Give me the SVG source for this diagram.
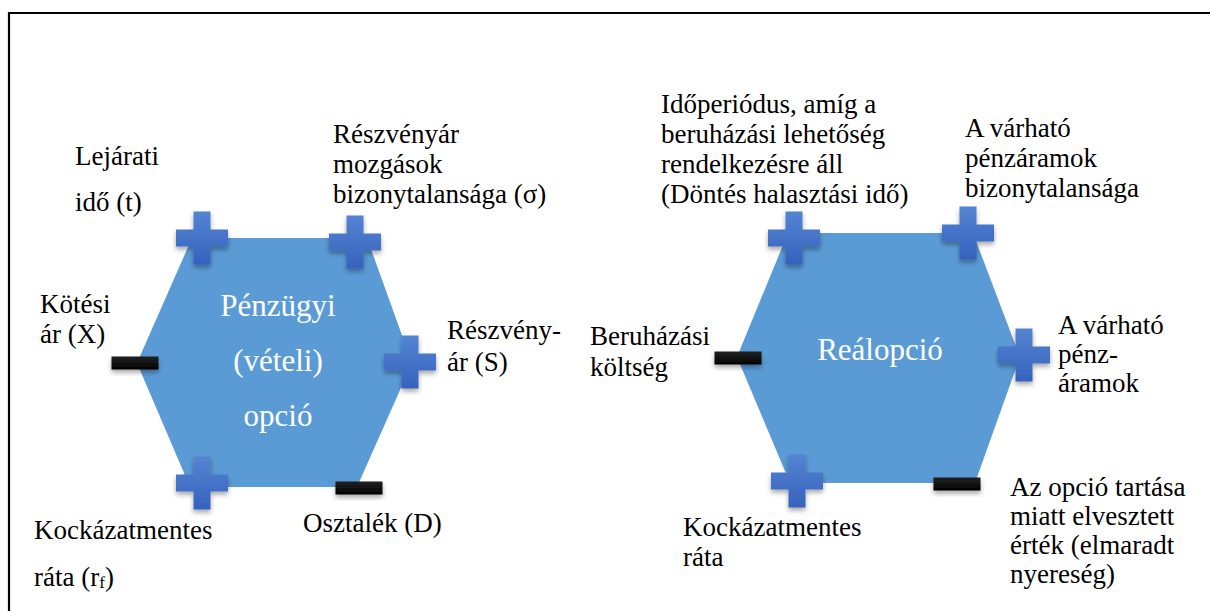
<svg xmlns="http://www.w3.org/2000/svg" width="1210" height="611" viewBox="0 0 1210 611">
  <style>
    .frame { fill: none; stroke: #000; stroke-width: 2.2; }
    .hex { fill: #5B9BD5; }
    .lbl { font-size: 27px; fill: #000; }
    .core { font-size: 31px; fill: #fff; text-anchor: middle; }
    .plus { fill: url(#plusFill); filter: url(#soft); }
    .minus { fill: url(#minusFill); filter: url(#soft); }
  </style>
  <defs>
    <linearGradient id="plusFill" x1="0" y1="0" x2="0" y2="1">
      <stop offset="0" stop-color="#5584D3"/>
      <stop offset="1" stop-color="#3562BC"/>
    </linearGradient>
    <linearGradient id="minusFill" x1="0" y1="0" x2="0" y2="1">
      <stop offset="0" stop-color="#222"/>
      <stop offset="1" stop-color="#000"/>
    </linearGradient>
    <filter id="soft" x="-40%" y="-40%" width="180%" height="190%">
      <feDropShadow dx="0" dy="3" stdDeviation="2.5" flood-color="#000" flood-opacity="0.35"/>
    </filter>
    <!-- plus / minus sign shapes centred on the origin -->
    <path id="plusShape" d="M-8.5 -26.5H8.5V-8.5H26V8.5H8.5V26.5H-8.5V8.5H-26V-8.5H-8.5Z"/>
    <rect id="minusShape" x="-23.5" y="-6.5" width="47" height="13"/>
  </defs>

  <!-- page frame (top and left rule) -->
  <path class="frame" d="M9 611V13H1210"/>

  <g font-family="Liberation Serif">
  <!-- left: financial call option -->
  <g id="financial-option">
    <polygon class="hex" points="192,238 367,238 412,363 357,487 190,487 137,363"/>
    <text class="core" x="278" y="316" font-family="Liberation Serif">Pénzügyi</text>
    <text class="core" x="278" y="371" font-family="Liberation Serif">(vételi)</text>
    <text class="core" x="278" y="426" font-family="Liberation Serif">opció</text>
  </g>

  <g id="fin-maturity">
    <use href="#plusShape" class="plus" x="202" y="238"/>
    <text class="lbl" x="75" y="165" font-family="Liberation Serif">Lejárati</text>
    <text class="lbl" x="75" y="211" font-family="Liberation Serif">idő (t)</text>
  </g>
  <g id="fin-volatility">
    <use href="#plusShape" class="plus" x="355" y="242"/>
    <text class="lbl" x="333" y="143" font-family="Liberation Serif">Részvényár</text>
    <text class="lbl" x="333" y="173" font-family="Liberation Serif">mozgások</text>
    <text class="lbl" x="333" y="203" font-family="Liberation Serif">bizonytalansága (σ)</text>
  </g>
  <g id="fin-strike">
    <use href="#minusShape" class="minus" x="135" y="363"/>
    <text class="lbl" x="40" y="313" font-family="Liberation Serif">Kötési</text>
    <text class="lbl" x="40" y="343" font-family="Liberation Serif">ár (X)</text>
  </g>
  <g id="fin-stock">
    <use href="#plusShape" class="plus" x="410" y="362"/>
    <text class="lbl" x="447" y="339" font-family="Liberation Serif">Részvény-</text>
    <text class="lbl" x="447" y="371" font-family="Liberation Serif">ár (S)</text>
  </g>
  <g id="fin-riskfree">
    <use href="#plusShape" class="plus" x="202" y="483"/>
    <text class="lbl" x="34" y="539" font-family="Liberation Serif">Kockázatmentes</text>
    <text class="lbl" x="34" y="586" font-family="Liberation Serif">ráta (r<tspan font-size="17" dy="2">f</tspan><tspan dy="-2">)</tspan></text>
  </g>
  <g id="fin-dividend">
    <use href="#minusShape" class="minus" x="359" y="488"/>
    <text class="lbl" x="303" y="532" font-family="Liberation Serif">Osztalék (D)</text>
  </g>

  <!-- right: real option -->
  <g id="real-option">
    <polygon class="hex" points="788,233 973,233 1020,357 975,483 790,483 737,357"/>
    <text class="core" x="880" y="360" font-family="Liberation Serif">Reálopció</text>
  </g>

  <g id="real-deferral">
    <use href="#plusShape" class="plus" x="794" y="238"/>
    <text class="lbl" x="661" y="113" font-family="Liberation Serif">Időperiódus, amíg a</text>
    <text class="lbl" x="661" y="143" font-family="Liberation Serif">beruházási lehetőség</text>
    <text class="lbl" x="661" y="173" font-family="Liberation Serif">rendelkezésre áll</text>
    <text class="lbl" x="661" y="203" font-family="Liberation Serif">(Döntés halasztási idő)</text>
  </g>
  <g id="real-uncertainty">
    <use href="#plusShape" class="plus" x="968" y="233"/>
    <text class="lbl" x="965" y="137" font-family="Liberation Serif">A várható</text>
    <text class="lbl" x="965" y="167" font-family="Liberation Serif">pénzáramok</text>
    <text class="lbl" x="965" y="197" font-family="Liberation Serif">bizonytalansága</text>
  </g>
  <g id="real-cost">
    <use href="#minusShape" class="minus" x="738" y="358"/>
    <text class="lbl" x="590" y="345" font-family="Liberation Serif">Beruházási</text>
    <text class="lbl" x="590" y="376" font-family="Liberation Serif">költség</text>
  </g>
  <g id="real-cashflow">
    <use href="#plusShape" class="plus" x="1024" y="355"/>
    <text class="lbl" x="1058" y="334" font-family="Liberation Serif">A várható</text>
    <text class="lbl" x="1058" y="363" font-family="Liberation Serif">pénz-</text>
    <text class="lbl" x="1058" y="392" font-family="Liberation Serif">áramok</text>
  </g>
  <g id="real-riskfree">
    <use href="#plusShape" class="plus" x="797" y="481"/>
    <text class="lbl" x="683" y="536" font-family="Liberation Serif">Kockázatmentes</text>
    <text class="lbl" x="683" y="566" font-family="Liberation Serif">ráta</text>
  </g>
  <g id="real-lostvalue">
    <use href="#minusShape" class="minus" x="957" y="484"/>
    <text class="lbl" x="1010" y="496" font-family="Liberation Serif">Az opció tartása</text>
    <text class="lbl" x="1010" y="525" font-family="Liberation Serif">miatt elvesztett</text>
    <text class="lbl" x="1010" y="554" font-family="Liberation Serif">érték (elmaradt</text>
    <text class="lbl" x="1010" y="583" font-family="Liberation Serif">nyereség)</text>
  </g>
  </g>
</svg>
